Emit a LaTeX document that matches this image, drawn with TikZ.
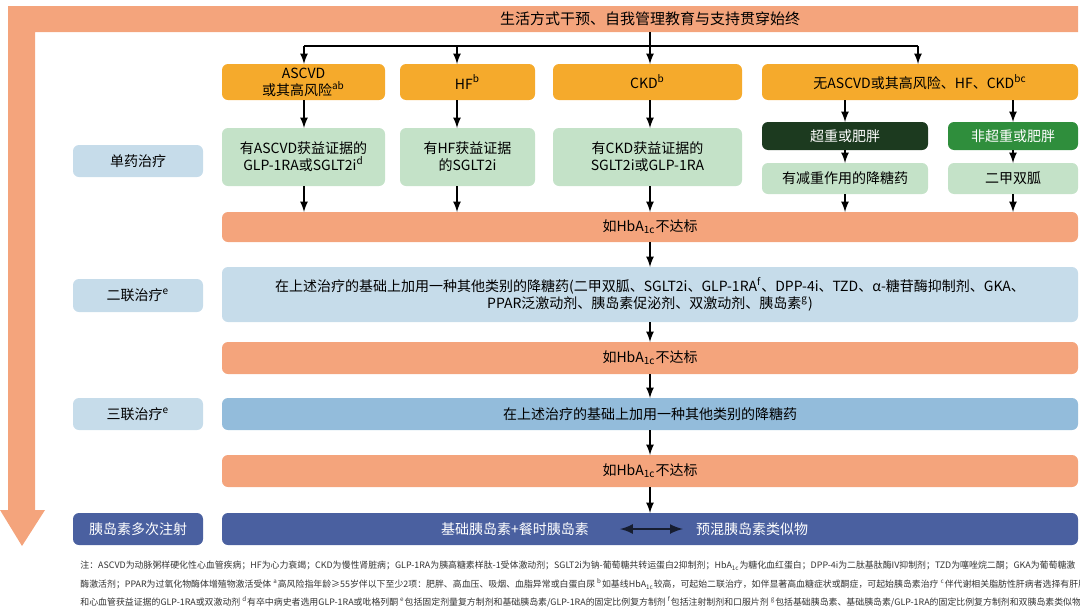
\documentclass[tikz,border=0pt]{standalone}
\usepackage{fontspec}
\setmainfont{Noto Sans CJK SC}
\usetikzlibrary{positioning}
\usetikzlibrary{arrows}
\usetikzlibrary{calc}
\definecolor{bandcol}{HTML}{F4A47C}
\definecolor{goldcol}{HTML}{F5AA2C}
\definecolor{mintcol}{HTML}{C4E2C8}
\definecolor{darkgreen}{HTML}{1C3A1F}
\definecolor{midgreen}{HTML}{2F8E3C}
\definecolor{paleblue}{HTML}{C6DCEA}
\definecolor{skyblue}{HTML}{93BCDB}
\definecolor{navycol}{HTML}{4A60A0}
\def\hba{如HbA\textsubscript{1c}不达标}
\tikzset{
  box/.style={rounded corners=3pt},
  cond/.style={box,fill=goldcol},
  mono/.style={box,fill=mintcol},
  fail/.style={box,fill=bandcol},
  stage/.style={box,fill=paleblue},
  flow/.style={->,>=latex,thick,black},
  note/.style={anchor=west,inner sep=0pt,font=\fontsize{4.45}{5}\selectfont,text=black!80}
}
\newcommand{\pbox}[5]{% name, style, x1/y1, x2/y2, text
  \path[#2] (#3) rectangle (#4);
  \node (#1) at ($(#3)!0.5!(#4)$) [align=center,inner sep=0pt,font=\fontsize{7}{8.5}\selectfont] {#5};}
\begin{document}
\begin{tikzpicture}[x=0.5pt,y=-0.5pt]
\useasboundingbox (0,0) rectangle (1080,611);
% band and long arrow
\fill[bandcol] (8,6) -- (1078,6) -- (1078,32) -- (35,32) -- (35,510) -- (45,510)
  -- (22,546) -- (0,510) -- (8,510) -- cycle;
\node (life) at (650,19) [font=\fontsize{7.5}{9}\selectfont] {生活方式干预、自我管理教育与支持贯穿始终};
% condition row
\pbox{ascvd}{cond}{222,64}{385,100}{ASCVD\\或其高风险\textsuperscript{ab}}
\pbox{hf}{cond}{400,64}{535,100}{HF\textsuperscript{b}}
\pbox{ckd}{cond}{553,64}{742,100}{CKD\textsuperscript{b}}
\pbox{none}{cond}{762,64}{1078,100}{无ASCVD或其高风险、HF、CKD\textsuperscript{bc}}
\coordinate (split) at (650,46);
\draw[thick] (650,32) -- (split);
\draw[thick] (304,46) -- (918,46);
\foreach \x in {304,457,650,918}
  \draw[flow] (\x,46) -- (\x,64);
% monotherapy row
\pbox{lone}{stage}{73,145}{203,177}{单药治疗}
\pbox{gascvd}{mono}{222,128}{385,186}{有ASCVD获益证据的\\GLP-1RA或SGLT2i\textsuperscript{d}}
\pbox{ghf}{mono}{400,128}{535,186}{有HF获益证据\\的SGLT2i}
\pbox{gckd}{mono}{553,128}{742,186}{有CKD获益证据的\\SGLT2i或GLP-1RA}
\pbox{obese}{box,fill=darkgreen}{762,122}{928,150}{\color{white}超重或肥胖}
\pbox{lean}{box,fill=midgreen}{948,122}{1078,150}{\color{white}非超重或肥胖}
\pbox{wloss}{mono}{762,163}{928,194}{有减重作用的降糖药}
\pbox{metf}{mono}{948,163}{1078,194}{二甲双胍}
\foreach \x in {304,457,650} \draw[flow] (\x,100) -- (\x,128);
\draw[flow] (845,100) -- (845,122);
\draw[flow] (1013,100) -- (1013,122);
\draw[flow] (845,150) -- (845,163);
\draw[flow] (1013,150) -- (1013,163);
% first check
\pbox{chk1}{fail}{222,212}{1078,242}{\hba}
\foreach \x in {304,457,650} \draw[flow] (\x,186) -- (\x,212);
\draw[flow] (845,194) -- (845,212);
\draw[flow] (1013,194) -- (1013,212);
% dual therapy
\pbox{ltwo}{stage}{73,279}{203,312}{二联治疗\textsuperscript{e}}
\pbox{dual}{stage}{222,267}{1078,322}{在上述治疗的基础上加用一种其他类别的降糖药(二甲双胍、SGLT2i、GLP-1RA\textsuperscript{f}、DPP-4i、TZD、α-糖苷酶抑制剂、GKA、\\PPAR泛激动剂、胰岛素促泌剂、双激动剂、胰岛素\textsuperscript{g})}
\draw[flow] (650,242) -- (650,267);
\pbox{chk2}{fail}{222,342}{1078,374}{\hba}
\draw[flow] (650,322) -- (650,342);
% triple therapy
\pbox{lthree}{stage}{73,398}{203,430}{三联治疗\textsuperscript{e}}
\pbox{triple}{box,fill=skyblue}{222,398}{1078,430}{在上述治疗的基础上加用一种其他类别的降糖药}
\draw[flow] (650,374) -- (650,398);
\pbox{chk3}{fail}{222,455}{1078,487}{\hba}
\draw[flow] (650,430) -- (650,455);
% insulin
\pbox{lins}{box,fill=navycol}{73,513}{203,545}{\color{white}胰岛素多次注射}
\pbox{ins}{box,fill=navycol}{222,513}{1078,545}{}
\draw[flow] (650,487) -- (650,513);
\node (basal) at (515,529) [text=white,font=\fontsize{7}{8.5}\selectfont] {基础胰岛素+餐时胰岛素};
\node (premix) at (752,529) [text=white,font=\fontsize{7}{8.5}\selectfont] {预混胰岛素类似物};
\draw[latex-latex,very thick,black!70!navycol,shorten <=12pt,shorten >=3pt] (basal) -- (premix);
% notes
\node (n1) at (80,566) [note] {注：ASCVD为动脉粥样硬化性心血管疾病；HF为心力衰竭；CKD为慢性肾脏病；GLP-1RA为胰高糖素样肽-1受体激动剂；SGLT2i为钠-葡萄糖共转运蛋白2抑制剂；HbA\textsubscript{1c}为糖化血红蛋白；DPP-4i为二肽基肽酶IV抑制剂；TZD为噻唑烷二酮；GKA为葡萄糖激};
\node (n2) at (80,584) [note] {酶激活剂；PPAR为过氧化物酶体增殖物激活受体 \textsuperscript{a}高风险指年龄≥55岁伴以下至少2项：肥胖、高血压、吸烟、血脂异常或白蛋白尿 \textsuperscript{b}如基线HbA\textsubscript{1c}较高，可起始二联治疗，如伴显著高血糖症状或酮症，可起始胰岛素治疗 \textsuperscript{c}伴代谢相关脂肪性肝病者选择有肝脏};
\node (n3) at (80,602) [note] {和心血管获益证据的GLP-1RA或双激动剂 \textsuperscript{d}有卒中病史者选用GLP-1RA或吡格列酮 \textsuperscript{e}包括固定剂量复方制剂和基础胰岛素/GLP-1RA的固定比例复方制剂 \textsuperscript{f}包括注射制剂和口服片剂 \textsuperscript{g}包括基础胰岛素、基础胰岛素/GLP-1RA的固定比例复方制剂和双胰岛素类似物};
\end{tikzpicture}
\end{document}
